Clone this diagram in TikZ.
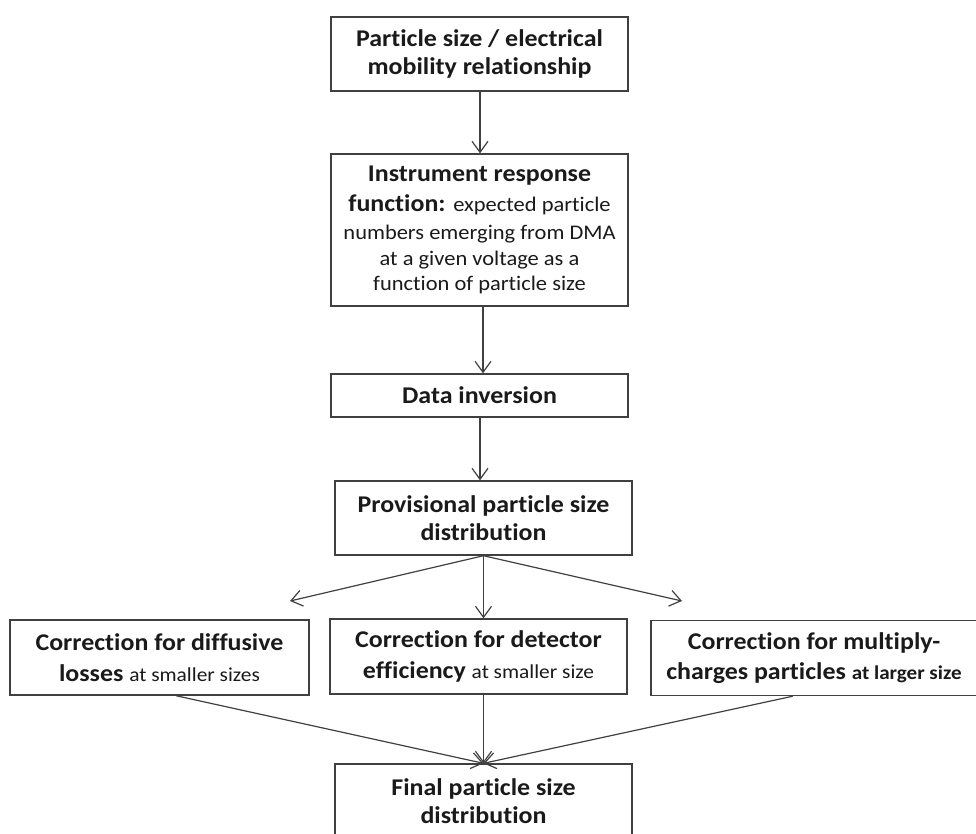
\documentclass[tikz,border=0pt]{standalone}
\usepackage{fontspec}
\setmainfont[FakeStretch=1.08, Ligatures=NoCommon]{Carlito}
\usetikzlibrary{arrows.meta,calc}
\definecolor{linegray}{HTML}{404040}
\definecolor{txt}{HTML}{1A1A1A}
\newcommand\nrm{\mdseries\fontsize{20.8}{25}\selectfont}
\newcommand\sml{\mdseries\fontsize{19.8}{22}\selectfont}
\newcommand\bsml{\bfseries\fontsize{19.5}{22}\selectfont}
\begin{document}
\begin{tikzpicture}[x=1pt,y=-1pt,
  box/.style={draw=linegray, line width=1.4pt, fill=white, align=center,
    inner sep=0pt, text=txt, font=\bfseries\fontsize{24}{28.5}\selectfont},
  arr/.style={draw=linegray, line width=1.2pt,
    -{Straight Barb[length=11pt,width=16pt,line width=1.2pt]}},
]
\useasboundingbox (0,0) rectangle (976,833);
\clip (0,0) rectangle (976,833);

\node[box, minimum width=297pt, minimum height=74pt] (b1) at (479.5,54)
  {Particle size / electrical\\mobility relationship};
\node[box, minimum width=297pt, minimum height=152pt] (b2) at (479.5,230)
  {Instrument response\\[1pt]
   function: {\nrm expected particle}\\
   {\nrm numbers emerging from DMA}\\[-3pt]
   {\nrm at a given voltage as a}\\[-3pt]
   {\nrm function of particle size}};
\node[box, minimum width=297pt, minimum height=43pt] (b3) at (479.5,395.5)
  {Data inversion};
\node[box, minimum width=297pt, minimum height=74pt] (b4) at (483.5,518)
  {Provisional particle size\\distribution};
\node[box, minimum width=299pt, minimum height=75pt] (b5l) at (159.5,657.5)
  {Correction for diffusive\\[2pt]losses {\sml at smaller sizes}};
\node[box, minimum width=297pt, minimum height=75pt] (b5m) at (478.5,656.5)
  {Correction for detector\\[2pt]efficiency {\sml at smaller size}};
\node[box, minimum width=326pt, minimum height=75pt] (b5r) at (814,658)
  {Correction for multiply-\\[2pt]charges particles {\bsml at larger size}};
\node[box, minimum width=297pt, minimum height=74pt] (b6) at (483.5,801)
  {Final particle size\\distribution};

\coordinate (lt) at (290,601);
\coordinate (rt) at (682,601);

\draw[arr] (b1.south -| 480,0) -- (b2.north -| 480,0);
\draw[arr] (b2.south -| 483,0) -- (b3.north -| 483,0);
\draw[arr] (b3.south -| 480,0) -- (b4.north -| 480,0);
\draw[arr] (b4.south) -- (lt);
\draw[arr] (b4.south) -- (rt);
\draw[arr] (b4.south) -- (b4.south |- b5m.north);
\draw[arr] ($(b5l.south west)!0.555!(b5l.south east)$) -- (b6.north);
\draw[arr] (b6.north |- b5m.south) -- (b6.north);
\draw[arr] ($(b5r.south west)!0.435!(b5r.south east)$) -- (b6.north);
\end{tikzpicture}
\end{document}
